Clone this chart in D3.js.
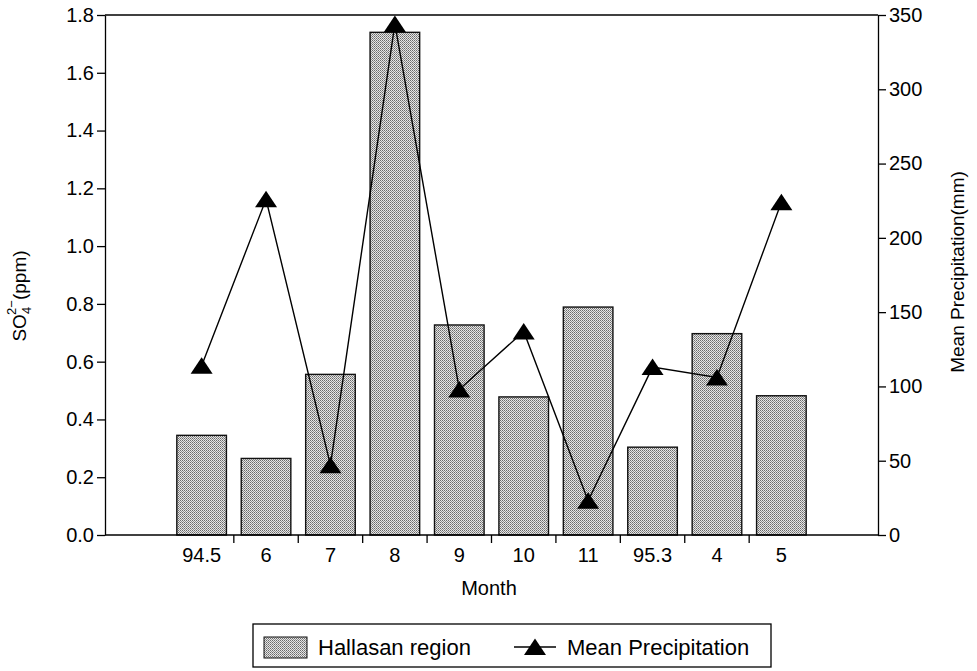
<!DOCTYPE html>
<html><head><meta charset="utf-8">
<script src="https://cdn.jsdelivr.net/npm/d3@7"></script>
<style>
body{margin:0;background:#fff}
text{font-family:"Liberation Sans",Arial,Helvetica,sans-serif;fill:#000}
</style>
</head><body>
<svg id="chart" width="977" height="671"></svg>
<script>
// ---- data ----
const months = ["94.5","6","7","8","9","10","11","95.3","4","5"];
const so4 = [0.345,0.265,0.556,1.74,0.727,0.478,0.789,0.304,0.697,0.482];
const precip = [114,226,47,344,98,137,23,113,106,224];
const leftTicks = [0,0.2,0.4,0.6,0.8,1.0,1.2,1.4,1.6,1.8];
const rightTicks = [0,50,100,150,200,250,300,350];
const seriesNames = ["Hallasan region","Mean Precipitation"];

// ---- layout ----
const L = 105, R = 878, T = 15, B = 535;
const svg = d3.select("#chart");

const defs = svg.append("defs");
const pat = defs.append("pattern").attr("id","dots").attr("patternUnits","userSpaceOnUse")
  .attr("width",2).attr("height",2);
pat.append("rect").attr("width",2).attr("height",2).attr("fill","#e6e6e6");
pat.append("rect").attr("x",0).attr("y",0).attr("width",1).attr("height",1).attr("fill","#6a6a6a");
pat.append("rect").attr("x",1).attr("y",1).attr("width",1).attr("height",1).attr("fill","#8e8e8e");

const x = d3.scaleBand().domain(months).range([L,R]).paddingInner(0).paddingOuter(1);
const y = d3.scaleLinear().domain([0,1.8]).range([B,T]);
const y2 = d3.scaleLinear().domain([0,350]).range([B,T]);

const barW = x.bandwidth()*0.77;

// bars
svg.append("g").selectAll("rect").data(months).join("rect")
  .attr("x",(d)=>x(d)+(x.bandwidth()-barW)/2)
  .attr("y",(d,i)=>y(so4[i]))
  .attr("width",barW)
  .attr("height",(d,i)=>B-y(so4[i]))
  .attr("fill","url(#dots)")
  .attr("stroke","#111").attr("stroke-width",1.4);

// top frame line
svg.append("line").attr("x1",L).attr("x2",R).attr("y1",T).attr("y2",T)
  .attr("stroke","#000").attr("stroke-width",1.3);

// axes
const fs = "20px";
const gl = svg.append("g").attr("transform",`translate(${L},0)`)
  .call(d3.axisLeft(y).tickValues(leftTicks).tickFormat(d3.format(".1f")).tickSize(8).tickSizeOuter(0).tickPadding(3));
const gr = svg.append("g").attr("transform",`translate(${R},0)`)
  .call(d3.axisRight(y2).tickValues(rightTicks).tickSize(8).tickSizeOuter(0).tickPadding(3));
const gb = svg.append("g").attr("transform",`translate(0,${B})`)
  .call(d3.axisBottom(x).tickSize(0).tickSizeOuter(0).tickPadding(13));
// x ticks at category boundaries
gb.append("g").selectAll("line").data(months.slice(1)).join("line")
  .attr("x1",d=>x(d)).attr("x2",d=>x(d)).attr("y1",0).attr("y2",8)
  .attr("stroke","#000").attr("stroke-width",1.3);

[gl,gr,gb].forEach(g=>{
  g.selectAll("path.domain").attr("stroke","#000").attr("stroke-width",1.3);
  g.selectAll(".tick line").attr("stroke","#000").attr("stroke-width",1.3);
  g.selectAll("text").style("font-size",fs).style("font-family","'Liberation Sans',Arial,sans-serif").attr("fill","#000");
});
gb.select("path.domain").attr("d",`M${L},0H${R}`);

// line + triangles
const line = d3.line().x((d,i)=>x(months[i])+x.bandwidth()/2).y(d=>y2(d));
svg.append("path").datum(precip).attr("d",line)
  .attr("fill","none").attr("stroke","#000").attr("stroke-width",1.4);
const tri = "M0,-8.5L11,8L-11,8Z";
svg.append("g").selectAll("path").data(precip).join("path")
  .attr("transform",(d,i)=>`translate(${x(months[i])+x.bandwidth()/2},${y2(d)})`)
  .attr("d",tri).attr("fill","#000");

// axis titles
const lt = svg.append("text").attr("transform","translate(26,296) rotate(-90)")
  .attr("text-anchor","middle").style("font-size","19px");
lt.append("tspan").text("SO");
lt.append("tspan").attr("dy",5).style("font-size","13px").text("4");
lt.append("tspan").attr("dx",-8).attr("dy",-15).style("font-size","13px").text("2\u2212");
lt.append("tspan").attr("dy",10).text("(ppm)");

svg.append("text").attr("transform","translate(964,272) rotate(-90)")
  .attr("text-anchor","middle").style("font-size","19px").text("Mean Precipitation(mm)");

svg.append("text").attr("x",489).attr("y",595).attr("text-anchor","middle")
  .style("font-size","20px").text("Month");

// legend
const lg = svg.append("g");
lg.append("rect").attr("x",253).attr("y",624).attr("width",518).attr("height",43)
  .attr("fill","#fff").attr("stroke","#000").attr("stroke-width",1.3);
lg.append("rect").attr("x",264).attr("y",637).attr("width",43).attr("height",21)
  .attr("fill","url(#dots)").attr("stroke","#111").attr("stroke-width",1);
lg.append("text").attr("x",318).attr("y",655).style("font-size","22px").text(seriesNames[0]);
lg.append("line").attr("x1",514).attr("x2",556).attr("y1",647).attr("y2",647)
  .attr("stroke","#000").attr("stroke-width",1.4);
lg.append("path").attr("transform","translate(535,647)").attr("d",tri).attr("fill","#000");
lg.append("text").attr("x",567).attr("y",655).style("font-size","22px").text(seriesNames[1]);
</script>
</body></html>
